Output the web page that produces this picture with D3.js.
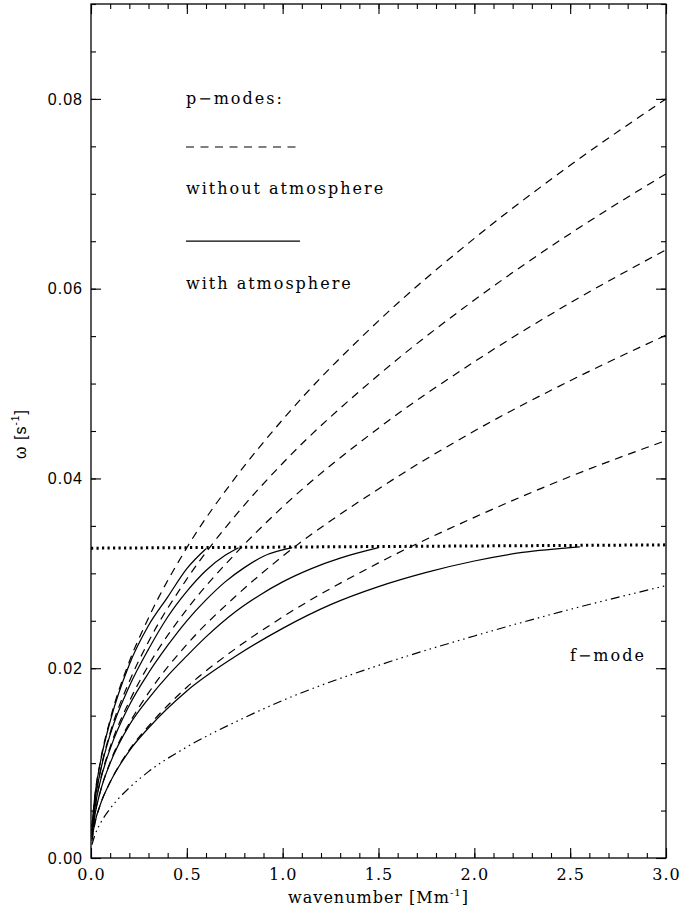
<!DOCTYPE html>
<html>
<head>
<meta charset="utf-8">
<script src="https://cdn.jsdelivr.net/npm/d3@7"></script>
<style>
  body { margin: 0; background: #fff; }
  .serif { font-family: "DejaVu Serif", "Liberation Serif", serif; }
  .sans { font-family: "Liberation Sans", "DejaVu Sans", sans-serif; }
</style>
</head>
<body>
<div class="canvas"></div>
<script>
// wavenumber grid shared by the free p-modes and the f-mode [Mm^-1]
const kGrid = [0.005, 0.02, 0.05, 0.1, 0.2, 0.3, 0.5, 0.75, 1.0, 1.5, 2.0, 2.5, 3.0];

// p-modes without atmosphere (dashed), omega [s^-1]
const pNoAtm1 = [0.0018, 0.0036, 0.0057, 0.0080, 0.0114, 0.0139, 0.0180, 0.0220, 0.0254, 0.0311, 0.0359, 0.0402, 0.0440];
const pNoAtm2 = [0.0022, 0.0045, 0.0071, 0.0101, 0.0142, 0.0174, 0.0225, 0.0275, 0.0318, 0.0389, 0.0450, 0.0503, 0.0551];
const pNoAtm3 = [0.0026, 0.0052, 0.0083, 0.0117, 0.0165, 0.0203, 0.0262, 0.0320, 0.0370, 0.0453, 0.0523, 0.0585, 0.0641];
const pNoAtm4 = [0.0029, 0.0059, 0.0093, 0.0132, 0.0186, 0.0228, 0.0294, 0.0360, 0.0416, 0.0509, 0.0588, 0.0658, 0.0721];
const pNoAtm5 = [0.0033, 0.0065, 0.0103, 0.0146, 0.0207, 0.0253, 0.0327, 0.0400, 0.0462, 0.0566, 0.0653, 0.0730, 0.0800];

// f-mode (dash-dot-dot-dot)
const fMode = [0.0014, 0.0024, 0.0037, 0.0052, 0.0074, 0.0091, 0.0117, 0.0143, 0.0166, 0.0203, 0.0234, 0.0262, 0.0287];

// p-modes with atmosphere (solid), each stops where it meets the cutoff
const kAtm1 = [0.005, 0.02, 0.05, 0.1, 0.2, 0.3, 0.5, 0.75, 1.0, 1.25, 1.5, 1.75, 2.0, 2.25, 2.55];
const pAtm1 = [0.0020, 0.0037, 0.0057, 0.0080, 0.0113, 0.0137, 0.0176, 0.0212, 0.0242, 0.0267, 0.0286, 0.0301, 0.0313, 0.0322, 0.0328];
const kAtm2 = [0.005, 0.02, 0.05, 0.1, 0.2, 0.3, 0.4, 0.5, 0.6, 0.75, 0.88, 1.0, 1.15, 1.3, 1.5];
const pAtm2 = [0.0023, 0.0045, 0.0071, 0.0100, 0.0140, 0.0168, 0.0192, 0.0213, 0.0233, 0.0259, 0.0277, 0.0291, 0.0305, 0.0316, 0.0327];
const kAtm3 = [0.005, 0.02, 0.05, 0.1, 0.2, 0.3, 0.4, 0.5, 0.6, 0.7, 0.8, 0.9, 1.05];
const pAtm3 = [0.0026, 0.0052, 0.0082, 0.0115, 0.0161, 0.0195, 0.0224, 0.0250, 0.0272, 0.0291, 0.0306, 0.0318, 0.0327];
const kAtm4 = [0.005, 0.02, 0.05, 0.1, 0.2, 0.3, 0.4, 0.5, 0.6, 0.7, 0.77];
const pAtm4 = [0.0029, 0.0059, 0.0092, 0.0130, 0.0181, 0.0220, 0.0254, 0.0281, 0.0303, 0.0319, 0.0327];
const kAtm5 = [0.005, 0.02, 0.05, 0.1, 0.2, 0.3, 0.4, 0.5, 0.6];
const pAtm5 = [0.0033, 0.0065, 0.0102, 0.0144, 0.0204, 0.0245, 0.0275, 0.0305, 0.0326];

// acoustic cutoff (dotted)
const kCutoff = [0, 3];
const cutoff = [0.03265, 0.0330];

// ticks
const xMajorTicks = [0, 0.5, 1.0, 1.5, 2.0, 2.5, 3.0];
const yMajorTicks = [0, 0.02, 0.04, 0.06, 0.08];

const width = 700, height = 913;
const plot = { left: 91, right: 666, top: 4, bottom: 858 };

const svg = d3.select('.canvas')
  .append('svg')
  .attr('width', width)
  .attr('height', height);

const x = d3.scaleLinear().domain([0, 3]).range([plot.left, plot.right]);
const y = d3.scaleLinear().domain([0, 0.09]).range([plot.bottom, plot.top]);

const xMinor = d3.range(0, 3.001, 0.1);
const yMinor = d3.range(0, 0.0901, 0.005);

// axes: ticks point inward on all four sides, labels only on bottom/left
const addAxis = (axis, transform, cls) => {
  const g = svg.append('g').attr('transform', transform).call(axis);
  g.select('.domain').remove();
  g.selectAll('line').attr('stroke', '#000').attr('stroke-width', 1.1);
  if (cls) g.selectAll('text').attr('class', cls).attr('fill', '#000');
  return g;
};

addAxis(d3.axisBottom(x).tickValues(xMinor).tickSize(-5).tickFormat(''), `translate(0,${plot.bottom})`);
addAxis(d3.axisBottom(x).tickValues(xMajorTicks).tickSize(-10).tickPadding(11).tickFormat(d3.format('.1f')),
  `translate(0,${plot.bottom})`, 'serif')
  .selectAll('text').attr('font-size', 16).attr('letter-spacing', 1);
addAxis(d3.axisTop(x).tickValues(xMinor).tickSize(-5).tickFormat(''), `translate(0,${plot.top})`);
addAxis(d3.axisTop(x).tickValues(xMajorTicks).tickSize(-10).tickFormat(''), `translate(0,${plot.top})`);

addAxis(d3.axisLeft(y).tickValues(yMinor).tickSize(-5).tickFormat(''), `translate(${plot.left},0)`);
addAxis(d3.axisLeft(y).tickValues(yMajorTicks).tickSize(-10).tickPadding(8).tickFormat(d3.format('.2f')),
  `translate(${plot.left},0)`, 'sans')
  .selectAll('text').attr('font-size', 16).attr('letter-spacing', 1);
addAxis(d3.axisRight(y).tickValues(yMinor).tickSize(-5).tickFormat(''), `translate(${plot.right},0)`);
addAxis(d3.axisRight(y).tickValues(yMajorTicks).tickSize(-10).tickFormat(''), `translate(${plot.right},0)`);

// frame
svg.append('rect')
  .attr('x', plot.left).attr('y', plot.top)
  .attr('width', plot.right - plot.left).attr('height', plot.bottom - plot.top)
  .attr('fill', 'none').attr('stroke', '#000').attr('stroke-width', 1.3);

// curves
const line = d3.line()
  .x(d => x(d[0]))
  .y(d => y(d[1]))
  .curve(d3.curveMonotoneX);

const zip = (ks, ws) => ks.map((k, i) => [k, ws[i]]);

const graph = svg.append('g');

const styles = {
  dashed: { dash: '8,6', width: 1.2 },
  solid: { dash: null, width: 1.25 },
  fmode: { dash: '9,4,1.5,4,1.5,4,1.5,4', width: 1.2 },
  dotted: { dash: '2.2,3.3', width: 3 }
};

const drawCurve = (pts, style) => {
  graph.append('path')
    .datum(pts)
    .attr('d', line)
    .attr('fill', 'none')
    .attr('stroke', '#000')
    .attr('stroke-width', style.width)
    .attr('stroke-dasharray', style.dash);
};

[pNoAtm1, pNoAtm2, pNoAtm3, pNoAtm4, pNoAtm5].forEach(ws => drawCurve(zip(kGrid, ws), styles.dashed));
drawCurve(zip(kGrid, fMode), styles.fmode);
[[kAtm1, pAtm1], [kAtm2, pAtm2], [kAtm3, pAtm3], [kAtm4, pAtm4], [kAtm5, pAtm5]]
  .forEach(([ks, ws]) => drawCurve(zip(ks, ws), styles.solid));
drawCurve(zip(kCutoff, cutoff), styles.dotted);

// legend
const legendText = (tx, ty, str) => svg.append('text')
  .attr('class', 'serif')
  .attr('x', tx).attr('y', ty)
  .attr('font-size', 16)
  .attr('letter-spacing', 2)
  .text(str);

legendText(186, 104, 'p\u2212modes:');
svg.append('line').attr('x1', 186).attr('x2', 300).attr('y1', 147).attr('y2', 147)
  .attr('stroke', '#000').attr('stroke-width', 1.2).attr('stroke-dasharray', '8,6.5');
legendText(186, 194, 'without atmosphere');
svg.append('line').attr('x1', 186).attr('x2', 300).attr('y1', 241).attr('y2', 241)
  .attr('stroke', '#000').attr('stroke-width', 1.25);
legendText(186, 289, 'with atmosphere');
legendText(570, 661, 'f\u2212mode');

// axis titles
const xTitle = svg.append('text')
  .attr('class', 'serif')
  .attr('x', (plot.left + plot.right) / 2).attr('y', 903)
  .attr('text-anchor', 'middle')
  .attr('font-size', 16)
  .attr('letter-spacing', 1);
xTitle.append('tspan').text('wavenumber [Mm');
xTitle.append('tspan').attr('font-size', 10).attr('dy', -7).text('-1');
xTitle.append('tspan').attr('dy', 7).text(']');

const yTitle = svg.append('text')
  .attr('class', 'sans')
  .attr('transform', `translate(26,${434}) rotate(-90)`)
  .attr('text-anchor', 'middle')
  .attr('font-size', 16)
  .attr('letter-spacing', 1);
yTitle.append('tspan').text('\u03c9 [s');
yTitle.append('tspan').attr('font-size', 10).attr('dy', -7).text('-1');
yTitle.append('tspan').attr('dy', 7).text(']');
</script>
</body>
</html>
